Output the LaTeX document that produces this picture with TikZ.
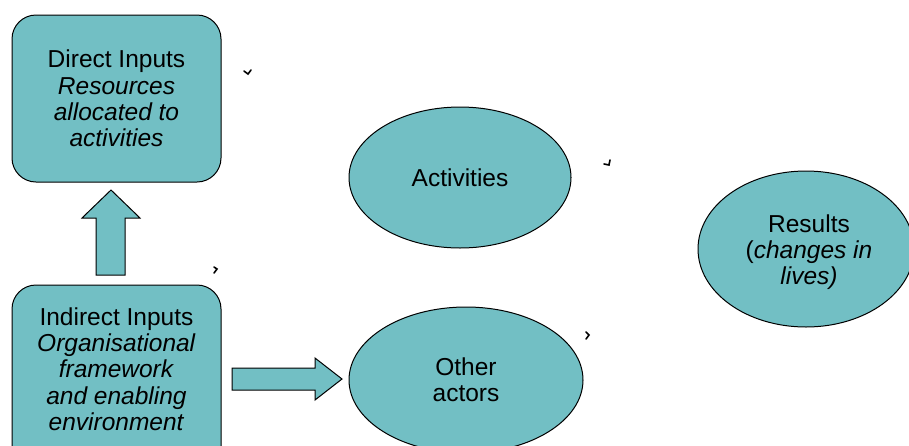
\documentclass[tikz,border=0pt]{standalone}
\usepackage{fontspec}
\setmainfont{Liberation Sans}
\usetikzlibrary{shapes.geometric}
\definecolor{teal}{HTML}{72BFC4}
\tikzset{
  x=1pt, y=-1pt,
  label font/.style={font=\fontsize{24.5}{26.3}\selectfont},
  box/.style={draw=black, line width=1pt, fill=teal, rounded corners=24pt,
    minimum width=209pt, align=center, label font},
  oval/.style={draw=black, line width=1pt, fill=teal, ellipse, align=center,
    inner sep=0pt, label font},
  fatarrow/.style={draw=black, line width=1pt, fill=teal},
  tick/.style={draw=black, line width=1.6pt, line cap=round}
}
\begin{document}
\begin{tikzpicture}
\useasboundingbox (0,0) rectangle (909,445);
\begin{scope}
\clip (0,0) rectangle (909,445);
% input boxes
\node[box, minimum height=167pt] (direct) at (116.5,98.5)
  {Direct Inputs\\\textit{Resources}\\\textit{allocated to}\\\textit{activities}};
\draw[box] (12,285) rectangle (221,470);
\node[align=center, label font] (indirect) at (116.5,369)
  {Indirect Inputs\\\textit{Organisational}\\\textit{framework}\\\textit{and enabling}\\\textit{environment}};
% ellipses
\node[oval, minimum width=222pt, minimum height=141pt] (act) at (460,177.5) {Activities};
\node[oval, minimum width=216pt, minimum height=156pt] (res) at (806,249) {};
\node[align=center, label font] (restext) at (809,252) {Results\\(\textit{changes in}\\\textit{lives)}};
\node[oval, minimum width=234pt, minimum height=146pt] (oth) at (466,380) {Other\\actors};
% block arrows
\draw[fatarrow] (96,275) -- (96,218) -- (82,218) -- (111,190) -- (140,218) -- (125,218) -- (125,275) -- cycle;
\draw[fatarrow] (232,368) -- (315,368) -- (315,358) -- (342,379) -- (315,400) -- (315,390) -- (232,390) -- cycle;
% small stray marks
\draw[tick] (244,71) -- (248,74) -- (251,70);
\draw[tick] (604,164) -- (609,165) -- (610,160);
\draw[tick] (214,267) -- (217,269) -- (214,273);
\draw[tick] (586,332) -- (589,335) -- (586,339);
\end{scope}
\end{tikzpicture}
\end{document}
